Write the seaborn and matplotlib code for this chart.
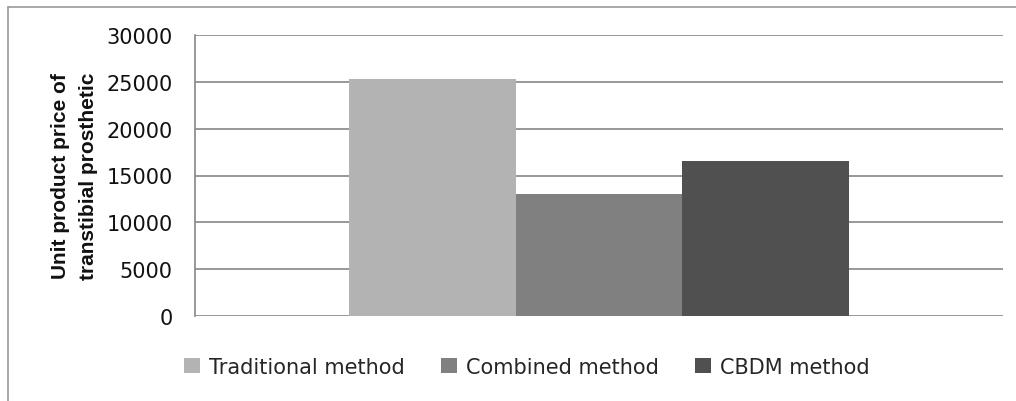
import matplotlib
matplotlib.use("Agg")
import matplotlib.pyplot as plt
from matplotlib.lines import Line2D
from matplotlib.patches import Patch
import seaborn as sns
import pandas as pd

# Unit prices of a transtibial prosthetic for each fabrication method
methods = ["Traditional method", "Combined method", "CBDM method"]
prices = [25300, 13000, 16600]
colors = ["#B3B3B3", "#808080", "#505050"]
yticks = [0, 5000, 10000, 15000, 20000, 25000, 30000]

sns.set_theme(style="white")
plt.rcParams["font.family"] = ["DejaVu Sans"]

df = pd.DataFrame({"group": ["all"] * len(methods), "method": methods, "price": prices})

W, H = 1016, 402
fig = plt.figure(figsize=(W / 100, H / 100), dpi=100)
ax = fig.add_axes([195 / W, 1 - 317 / H, 808 / W, 281 / H])

sns.barplot(data=df, x="group", y="price", hue="method", hue_order=methods,
            palette=colors, width=0.62, gap=0, saturation=1, ax=ax,
            legend=False, zorder=3, linewidth=0, edgecolor="none")

ax.set_xlim(-0.5, 0.5)
ax.set_ylim(0, 30000)
ax.set_yticks(yticks)
ax.set_yticklabels([str(v) for v in yticks], fontsize=15, color="#111111")
ax.set_xticks([])
ax.set_xlabel("")
ax.set_ylabel("Unit product price of\ntranstibial prosthetic", fontsize=15,
              fontweight="bold", linespacing=1.6, color="#111111",
              family=["Liberation Sans", "DejaVu Sans"])
ax.yaxis.set_label_coords((98 - 195) / 808, 0.5)
ax.tick_params(axis="y", length=0, pad=16)
ax.yaxis.grid(True, color="#868686", linewidth=1.2, zorder=0)
for s in ["top", "right", "bottom"]:
    ax.spines[s].set_visible(False)
ax.spines["left"].set_color("#868686")
ax.spines["left"].set_linewidth(1.2)

handles = [Patch(facecolor=c, edgecolor="none") for c in colors]
fig.legend(handles, methods, loc="center", bbox_to_anchor=(527 / W, 1 - 368 / H),
           ncol=3, frameon=False, fontsize=15, handlelength=0.75, handleheight=0.75,
           handletextpad=0.45, columnspacing=1.75, borderpad=0)

# outer chart frame (top and left edges)
fig.add_artist(Line2D([8 / W, 1.0], [1 - 8 / H, 1 - 8 / H], transform=fig.transFigure,
                      color="#9A9A9A", linewidth=1.2))
fig.add_artist(Line2D([8 / W, 8 / W], [0, 1 - 8 / H], transform=fig.transFigure,
                      color="#9A9A9A", linewidth=1.2))

fig.savefig("out.png", dpi=100)
